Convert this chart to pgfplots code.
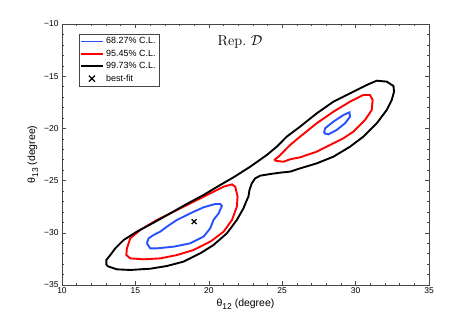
\documentclass[border=0pt]{standalone}
\usepackage{pgfplots}
\pgfplotsset{compat=1.18}
\usepackage{fontspec}
\newfontfamily\hel{Liberation Sans}
\definecolor{cblue}{RGB}{40,80,255}
\definecolor{axgray}{RGB}{70,70,70}
\newcommand{\sub}[1]{\raisebox{-0.55ex}{\fontsize{8.5}{10}\selectfont #1}}
\newcommand{\legfont}{\hel\fontsize{9}{10.5}\selectfont}
\pgfplotsset{
  lineblue/.style={legend image code/.code={\draw[white, line width=0.1pt] (1bp,0bp) -- (1.2bp,0bp); \draw[##1, draw=cblue, line width=1.6pt] (0bp,0bp) -- (22bp,0bp); \draw[draw=cblue, line width=1.6pt] (0bp,0bp) -- (22bp,0bp);}},
  linered/.style={legend image code/.code={\draw[##1, draw=red, line width=1.6pt] (0bp,0bp) -- (22bp,0bp);}},
  lineblack/.style={legend image code/.code={\draw[##1, draw=black, line width=1.6pt] (0bp,0bp) -- (22bp,0bp);}},
  mycross/.style={legend image code/.code={\draw[##1, draw=black, line width=1.2pt] (7.5bp,-3bp) -- (13.5bp,3bp) (7.5bp,3bp) -- (13.5bp,-3bp);}}
}
\begin{document}
\begin{tikzpicture}
\begin{axis}[
  at={(0,0)}, anchor=south west,
  scale only axis, width=367bp, height=261bp,
  xmin=10, xmax=35, ymin=-35, ymax=-10,
  xtick={10,15,...,35}, ytick={-35,-30,...,-10},
  xticklabels={10,15,20,25,30,35},
  yticklabels={−35,−30,−25,−20,−15,−10},
  minor x tick num=4, minor y tick num=4,
  tick align=inside, major tick length=4bp, minor tick length=2bp,
  axis line style={axgray, line width=0.6pt},
  tick style={axgray, line width=0.5pt},
  tick label style={font=\hel\fontsize{8.5}{10}\selectfont, text=black},
  xticklabel style={yshift=1bp},
  label style={font=\hel\fontsize{10.5}{12}\selectfont},
  xlabel={θ\sub{12} (degree)},
  ylabel={θ\sub{13} (degree)},
  xlabel style={yshift=1bp},
  ylabel style={yshift=-1bp},
  legend style={at={(0.046,0.962)}, anchor=north west, draw=axgray,
    inner sep=1.5bp, row sep=0.6bp},
  legend cell align=left,
]
% 68.27% lower
\addplot[cblue, line width=1.9pt, forget plot] coordinates {
(15.78,-31.01) (16.01,-31.49) (16.47,-31.49) (17.60,-31.33) (18.73,-31.01) (19.64,-30.37)
(20.10,-29.57) (20.32,-28.77) (20.67,-28.14) (20.89,-27.43) (20.78,-27.24) (20.44,-27.24)
(19.64,-27.56) (18.73,-28.14) (17.83,-28.77) (17.15,-29.41) (16.69,-29.89) (16.24,-30.21)
(15.90,-30.53) (15.78,-31.01)};
% 95.45% lower
\addplot[red, line width=1.9pt, forget plot] coordinates {
(14.42,-31.49) (14.38,-32.13) (14.65,-32.45) (15.56,-32.54) (16.69,-32.45) (17.83,-32.13)
(18.96,-31.65) (20.10,-30.85) (21.01,-29.89) (21.58,-28.77) (21.91,-27.50) (21.96,-26.54)
(21.80,-25.58) (21.58,-25.36) (21.01,-25.58) (20.10,-26.22) (18.96,-27.02) (17.83,-27.82)
(16.47,-28.77) (15.33,-29.73) (14.65,-30.53) (14.42,-31.49)};
% 99.73%
\addplot[black, line width=1.9pt, forget plot] coordinates {
(13.02,-33.08) (13.02,-32.60) (13.29,-32.13) (13.63,-31.49) (14.20,-30.69) (15.10,-29.89)
(16.24,-29.03) (17.37,-28.14) (18.50,-27.24) (19.64,-26.38) (20.78,-25.42) (21.68,-24.69)
(22.82,-23.67) (23.95,-22.55) (24.63,-21.75) (25.31,-20.79) (26.22,-19.83) (27.35,-18.56)
(28.49,-17.44) (29.62,-16.64) (30.76,-15.84) (31.44,-15.43) (32.12,-15.52) (32.58,-15.94)
(32.62,-16.48) (32.46,-17.28) (32.12,-18.24) (31.44,-19.51) (30.53,-20.79) (29.62,-21.75)
(28.49,-22.71) (27.35,-23.35) (26.22,-23.83) (25.54,-24.14) (24.86,-24.24) (24.18,-24.37)
(23.50,-24.53) (23.16,-24.78) (22.93,-25.26) (22.77,-25.90) (22.70,-26.54) (22.59,-26.86)
(22.36,-27.66) (21.91,-28.77) (21.23,-30.05) (20.32,-31.17) (19.41,-31.97) (18.28,-32.76)
(17.15,-33.18) (16.01,-33.44) (14.65,-33.56) (13.74,-33.50) (13.18,-33.24) (13.02,-33.08)};
% best fit
\addplot[black, only marks, mark=x, mark size=3.5bp, mark options={line width=1.2pt}, forget plot] coordinates {(19.0,-28.93)};
% 95.45% upper
\addplot[red, line width=1.9pt, forget plot] coordinates {
(24.45,-23.03) (24.75,-22.71) (25.54,-21.59) (26.22,-20.79) (27.35,-19.51) (28.49,-18.40)
(29.62,-17.44) (30.53,-16.80) (30.98,-16.80) (31.16,-17.28) (31.10,-18.24) (30.64,-19.20)
(29.85,-20.31) (29.17,-20.95) (28.26,-21.59) (27.35,-22.23) (26.22,-22.77) (25.54,-22.96)
(25.09,-23.19) (24.63,-23.12) (24.45,-23.03)};
% 68.27% upper
\addplot[cblue, line width=1.9pt, forget plot] coordinates {
(27.85,-20.47) (27.92,-19.99) (28.49,-19.35) (29.17,-18.72) (29.58,-18.46) (29.62,-18.88)
(29.28,-19.51) (28.71,-20.15) (28.15,-20.57) (27.85,-20.47)};
\addlegendimage{lineblue}
\addlegendentry{\legfont 68.27\% C.L.}
\addlegendimage{linered}
\addlegendentry{\legfont 95.45\% C.L.}
\addlegendimage{lineblack}
\addlegendentry{\legfont 99.73\% C.L.}
\addlegendimage{mycross}
\addlegendentry{\legfont best-fit}
\node at (axis cs:22.13,-11.75) {\fontsize{14.5}{16}\selectfont Rep.~$\mathcal{D}$};
\end{axis}
\pgfresetboundingbox
\path[use as bounding box] (-62bp,-36bp) rectangle (412bp,285bp);
\end{tikzpicture}
\end{document}
